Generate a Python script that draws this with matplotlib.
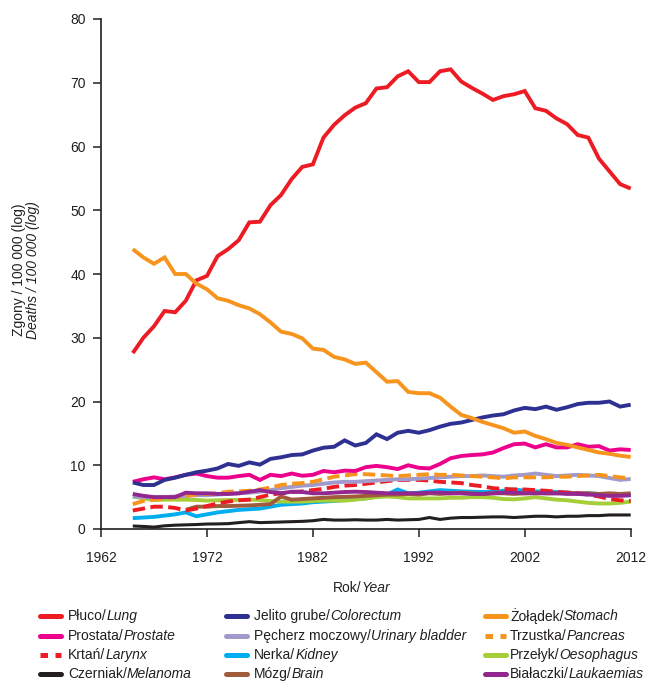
import numpy as np
import matplotlib
matplotlib.use("Agg")
import matplotlib.pyplot as plt
from matplotlib.lines import Line2D

plt.rcParams['font.family'] = ['Liberation Sans', 'DejaVu Sans']

years = np.arange(1965, 2013)
nan = np.nan

lung = [27.6, 30.0, 31.8, 34.2, 34.0, 35.8, 39.0, 39.7, 42.8, 43.9,
        45.3, 48.1, 48.2, 50.8, 52.4, 54.9, 56.8, 57.2, 61.4, 63.4,
        64.9, 66.1, 66.8, 69.1, 69.3, 71.0, 71.8, 70.1, 70.1, 71.8,
        72.1, 70.2, 69.2, 68.3, 67.3, 67.9, 68.2, 68.7, 66.0, 65.6,
        64.4, 63.5, 61.8, 61.4, 58.1, 56.1, 54.1, 53.4]
stomach = [43.9, 42.6, 41.6, 42.6, 40.0, 40.0, 38.5, 37.6, 36.2, 35.8,
           35.1, 34.6, 33.7, 32.4, 30.95, 30.6, 29.9, 28.3, 28.1, 27.0,
           26.6, 25.9, 26.1, 24.6, 23.1, 23.2, 21.5, 21.3, 21.3, 20.6,
           19.2, 17.9, 17.4, 16.8, 16.3, 15.8, 15.1, 15.3, 14.6, 14.1,
           13.5, 13.2, 12.8, 12.4, 12.0, 11.8, 11.5, 11.3]
colorectum = [7.3, 6.9, 6.9, 7.7, 8.05, 8.5, 8.9, 9.15, 9.5, 10.2,
              9.9, 10.45, 10.1, 11.0, 11.25, 11.6, 11.7, 12.3, 12.75, 12.9,
              13.9, 13.1, 13.5, 14.85, 14.1, 15.1, 15.4, 15.1, 15.5, 16.05,
              16.5, 16.7, 17.1, 17.5, 17.8, 18.0, 18.6, 19.0, 18.8, 19.2,
              18.7, 19.1, 19.6, 19.8, 19.8, 20.0, 19.2, 19.5]
prostate = [7.4, 7.8, 8.1, 7.8, 8.1, 8.5, 8.7, 8.3, 8.05, 8.05,
            8.3, 8.5, 7.7, 8.5, 8.3, 8.7, 8.35, 8.5, 9.1, 8.9,
            9.15, 9.1, 9.7, 9.9, 9.7, 9.4, 10.0, 9.6, 9.5, 10.2,
            11.1, 11.45, 11.6, 11.7, 12.0, 12.7, 13.3, 13.4, 12.8, 13.3,
            12.8, 12.8, 13.3, 12.9, 13.0, 12.3, 12.5, 12.4]
bladder = [5.1, 5.0, 4.9, 5.0, 5.1, 5.2, 5.3, 5.3, 5.4, 5.5,
           5.6, 5.7, 5.85, 6.1, 6.4, 6.6, 6.8, 6.9, 7.1, 7.3,
           7.4, 7.4, 7.5, 7.6, 7.7, 7.8, 7.8, 7.9, 8.0, 8.1,
           8.2, 8.3, 8.3, 8.4, 8.3, 8.2, 8.4, 8.5, 8.7, 8.5,
           8.3, 8.4, 8.5, 8.4, 8.3, 8.0, 7.7, 7.85]
pancreas = [3.9, 4.4, 4.6, 4.8, 5.0, 5.2, 5.4, 5.5, 5.6, 5.85,
            5.9, 6.0, 6.2, 6.5, 6.9, 7.1, 7.2, 7.4, 7.8, 8.2,
            8.4, 8.6, 8.6, 8.5, 8.4, 8.3, 8.4, 8.5, 8.6, 8.5,
            8.5, 8.4, 8.3, 8.2, 8.1, 7.95, 8.1, 8.1, 8.1, 8.1,
            8.2, 8.2, 8.3, 8.4, 8.5, 8.3, 8.1, 7.95]
larynx = [2.9, 3.2, 3.5, 3.5, 3.3, 2.9, 3.2, 3.6, 4.0, 4.3,
          4.5, 4.6, 5.0, 5.4, 5.6, 5.8, 5.9, 6.1, 6.3, 6.6,
          6.8, 6.9, 7.1, 7.3, 7.5, 7.7, 7.7, 7.7, 7.6, 7.4,
          7.3, 7.2, 6.9, 6.7, 6.4, 6.3, 6.2, 6.2, 6.1, 6.0,
          5.85, 5.7, 5.6, 5.4, 5.1, 4.7, 4.5, 4.4]
kidney = [1.7, 1.8, 1.9, 2.1, 2.3, 2.6, 2.0, 2.3, 2.6, 2.8,
          3.0, 3.1, 3.2, 3.5, 3.8, 3.9, 4.0, 4.2, 4.3, 4.4,
          4.55, 4.7, 4.8, 5.1, 5.4, 6.2, 5.6, 5.7, 5.9, 6.1,
          6.0, 5.9, 5.85, 5.8, 5.85, 6.0, 6.2, 6.0, 5.9, 5.85,
          5.8, 5.7, 5.6, 5.6, 5.5, 5.3, 5.3, 5.3]
oesophagus = [5.1, 4.8, 4.55, 4.6, 4.6, 4.6, 4.55, 4.45, 4.5, 4.55,
              4.55, 4.6, 4.55, 4.4, 4.3, 4.3, 4.3, 4.4, 4.45, 4.45,
              4.45, 4.6, 4.8, 5.0, 5.1, 5.0, 4.8, 4.8, 4.8, 4.8,
              4.9, 4.9, 5.0, 5.0, 4.9, 4.7, 4.65, 4.8, 5.0, 4.8,
              4.6, 4.5, 4.3, 4.1, 4.0, 4.0, 4.1, 4.3]
melanoma = [0.47, 0.4, 0.3, 0.5, 0.6, 0.65, 0.7, 0.78, 0.8, 0.84,
            1.0, 1.15, 1.0, 1.05, 1.1, 1.15, 1.2, 1.3, 1.5, 1.4,
            1.4, 1.45, 1.4, 1.4, 1.5, 1.4, 1.45, 1.5, 1.8, 1.5,
            1.7, 1.8, 1.8, 1.85, 1.9, 1.9, 1.8, 1.9, 2.0, 2.0,
            1.9, 2.0, 2.0, 2.1, 2.1, 2.2, 2.2, 2.2]
brain = [nan, nan, nan, nan, nan, 3.0, 3.5, 3.5, 3.6, 3.6,
         3.65, 3.7, 3.8, 3.9, 5.1, 4.6, 4.7, 4.8, 4.9, 5.0,
         5.05, 5.1, 5.2, 5.3, 5.4, 5.4, 5.5, 5.4, 5.6, 5.5,
         5.6, 5.7, 5.6, 5.5, 5.6, 5.6, 5.5, 5.6, 5.7, 5.6,
         5.6, 5.7, 5.6, 5.6, 5.5, 5.6, 5.5, 5.6]
leukaemia = [5.5, 5.2, 5.0, 5.0, 5.0, 5.7, 5.6, 5.6, 5.5, 5.5,
             5.6, 5.85, 6.1, 5.8, 5.6, 5.85, 5.8, 5.6, 5.6, 5.7,
             5.8, 5.85, 5.8, 5.7, 5.6, 5.6, 5.6, 5.6, 5.7, 5.7,
             5.6, 5.6, 5.5, 5.5, 5.6, 5.7, 5.7, 5.6, 5.6, 5.6,
             5.6, 5.5, 5.5, 5.4, 5.3, 5.2, 5.2, 5.3]

red = '#ED1C24'
orange = '#F7941D'
ink = '#231F20'

# (normal part, italic part, values, colour, dashed)
series = {
    'lung': ('Płuco/', 'Lung', lung, red, False),
    'colorectum': ('Jelito grube/', 'Colorectum', colorectum, '#2E3192', False),
    'stomach': ('Żołądek/', 'Stomach', stomach, orange, False),
    'prostate': ('Prostata/', 'Prostate', prostate, '#EC008C', False),
    'bladder': ('Pęcherz moczowy/', 'Urinary bladder', bladder, '#A09ACD', False),
    'pancreas': ('Trzustka/', 'Pancreas', pancreas, orange, True),
    'larynx': ('Krtań/', 'Larynx', larynx, red, True),
    'kidney': ('Nerka/', 'Kidney', kidney, '#00AEEF', False),
    'oesophagus': ('Przełyk/', 'Oesophagus', oesophagus, '#A6CE39', False),
    'melanoma': ('Czerniak/', 'Melanoma', melanoma, ink, False),
    'brain': ('Mózg/', 'Brain', brain, '#A05A3C', False),
    'leukaemia': ('Białaczki/', 'Laukaemias', leukaemia, '#92278F', False),
}
legend_order = ['lung', 'colorectum', 'stomach',
                'prostate', 'bladder', 'pancreas',
                'larynx', 'kidney', 'oesophagus',
                'melanoma', 'brain', 'leukaemia']
draw_order = ['melanoma', 'kidney', 'oesophagus', 'brain', 'larynx', 'bladder',
              'pancreas', 'leukaemia', 'prostate', 'colorectum', 'lung', 'stomach']

W, H = 648, 682
fig = plt.figure(figsize=(W / 100, H / 100), dpi=100)
ax = fig.add_axes([101 / W, 1 - 529 / H, 529.7 / W, 510 / H])

for key in draw_order:
    norm, ital, vals, col, dashed = series[key]
    lw = 2.2 if key == 'melanoma' else 2.8
    ln, = ax.plot(years, vals, color=col, lw=lw, clip_on=False,
                  solid_capstyle='butt', solid_joinstyle='miter')
    if dashed:
        ln.set_dashes((3.2, 1.4))

ax.set_xlim(1962, 2012)
ax.set_ylim(0, 80)
ax.set_xticks(np.arange(1962, 2013, 10))
ax.set_yticks(np.arange(0, 81, 10))
for s in ['top', 'right']:
    ax.spines[s].set_visible(False)
for s in ['left', 'bottom']:
    ax.spines[s].set_linewidth(1.2)
    ax.spines[s].set_color(ink)
ax.tick_params(direction='out', length=6, width=1.1, labelsize=10,
               colors=ink, pad=5)
ax.tick_params(axis='x', pad=10)

renderer = fig.canvas.get_renderer()


def mixed_text(x, y, normal, italic, size=10, ha='left'):
    # normal part followed by an italic part, x/y in pixels from top-left
    t1 = fig.text(0, 1 - y / H, normal, fontsize=size, color=ink, va='center')
    t2 = fig.text(0, 1 - y / H, italic, fontsize=size, color=ink, va='center',
                  style='italic')
    w1 = t1.get_window_extent(renderer=renderer).width
    w2 = t2.get_window_extent(renderer=renderer).width
    x0 = x - (w1 + w2) / 2 if ha == 'center' else x
    t1.set_x(x0 / W)
    t2.set_x((x0 + w1) / W)


# axis titles
fig.text(19 / W, 1 - 270 / H, 'Zgony / 100 000 (log)', rotation=90,
         ha='center', va='center', fontsize=10, color=ink)
fig.text(33 / W, 1 - 270 / H, 'Deaths / 100 000 (log)', rotation=90,
         ha='center', va='center', fontsize=10, color=ink, style='italic')
mixed_text(362, 588, 'Rok/', 'Year', ha='center')

# legend drawn by hand (3 columns x 4 rows)
col_handle = [40, 226, 485]
col_text = [68, 254, 510]
row_y = [616, 636, 655, 674]
for i, key in enumerate(legend_order):
    r, c = divmod(i, 3)
    norm, ital, vals, col, dashed = series[key]
    y = 1 - row_y[r] / H
    h = Line2D([col_handle[c] / W, (col_handle[c] + 21) / W], [y, y],
               transform=fig.transFigure, color=col, lw=3.6,
               solid_capstyle='round')
    if dashed:
        h.set_dashes((1.5, 1.5))
        h.set_dash_capstyle('butt')
    fig.add_artist(h)
    mixed_text(col_text[c], row_y[r], norm, ital)

fig.savefig('out.png', dpi=100)
